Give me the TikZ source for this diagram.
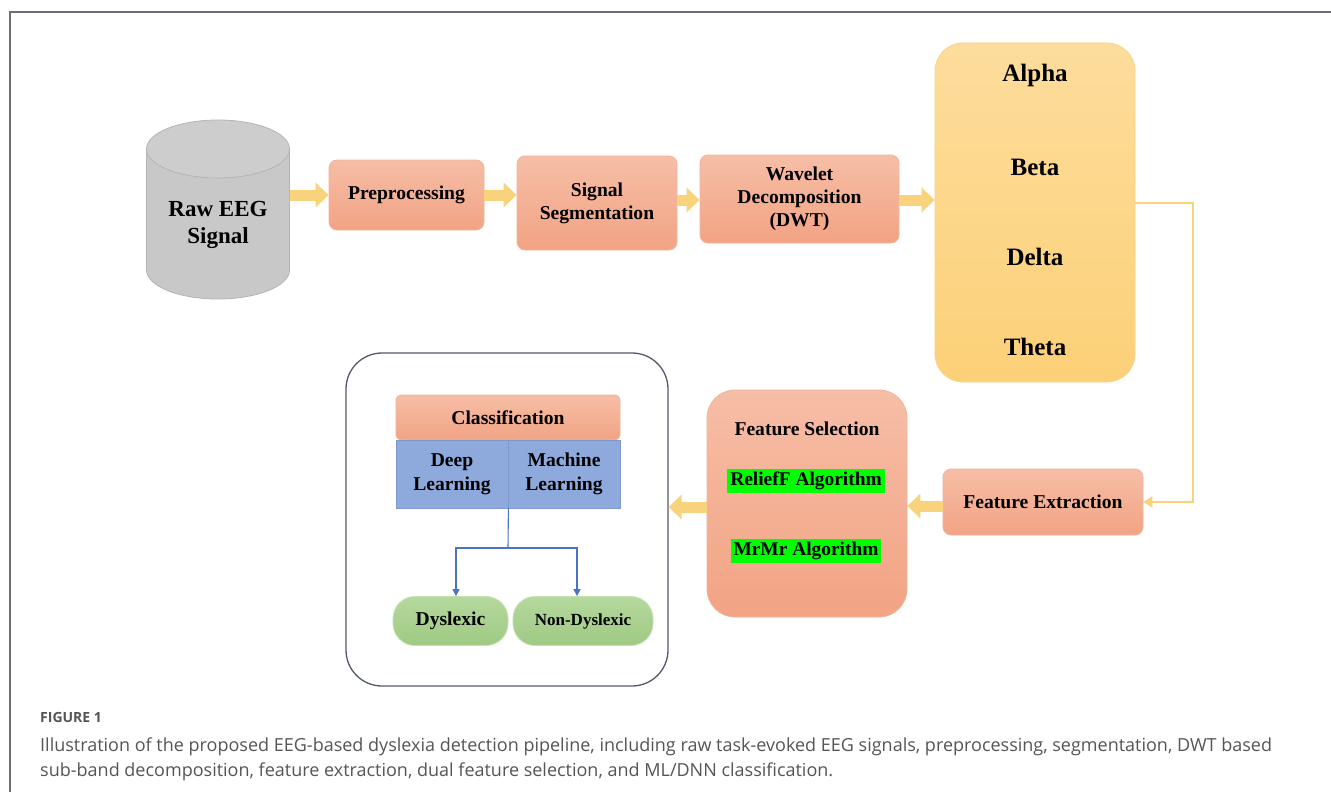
\documentclass[tikz,border=0pt]{standalone}
\usepackage{fontspec}
\setmainfont{Liberation Serif}
\newfontfamily\capfont{Open Sans}
\usetikzlibrary{arrows.meta,calc}
\definecolor{framegray}{HTML}{6E6E78}
\definecolor{otop}{HTML}{F6BEA6}
\definecolor{obot}{HTML}{F2A384}
\definecolor{oedge}{HTML}{F0B49A}
\definecolor{ytop}{HTML}{FDDD9C}
\definecolor{ybot}{HTML}{FCD077}
\definecolor{yedge}{HTML}{FAD486}
\definecolor{arrowy}{HTML}{F9D27C}
\definecolor{cylbody}{HTML}{C8C8C8}
\definecolor{cyltop}{HTML}{CDCDCD}
\definecolor{cyledge}{HTML}{B4B4B4}
\definecolor{bluefill}{HTML}{8EAADC}
\definecolor{blueedge}{HTML}{7D99CF}
\definecolor{blueline}{HTML}{4A74C0}
\definecolor{gtop}{HTML}{B5D99D}
\definecolor{gbot}{HTML}{9FC983}
\definecolor{gedge}{HTML}{C6E1B5}
\definecolor{panel}{HTML}{525A6A}
\definecolor{capgray}{HTML}{555555}
\definecolor{hlgreen}{HTML}{00FF00}
\tikzset{
  obox/.style={draw=oedge, line width=0.8pt, top color=otop, bottom color=obot, rounded corners=8pt, align=center, font=\fontsize{19.6}{23}\selectfont\bfseries, inner sep=2pt},
  ybox/.style={draw=yedge, line width=0.8pt, top color=ytop, bottom color=ybot, rounded corners=28pt},
  bbox/.style={draw=blueedge, line width=0.8pt, fill=bluefill, align=center, font=\fontsize{19.6}{24}\selectfont\bfseries, inner sep=1pt},
  gbox/.style={draw=gedge, line width=0.8pt, top color=gtop, bottom color=gbot, rounded corners=22pt, font=\fontsize{19.6}{22}\selectfont\bfseries, inner sep=1pt},
  fat/.style={draw=arrowy, line width=11pt, -{Triangle[length=13pt,width=24pt]}, shorten >=0pt},
  thinconn/.style={draw=arrowy, line width=2pt, -{Triangle[length=9pt,width=11pt]}},
  blueconn/.style={draw=blueline, line width=1.1pt, -{Triangle[length=7pt,width=7pt]}},
  hl/.style={fill=hlgreen, inner sep=3pt, font=\fontsize{19.4}{22}\selectfont\bfseries},
  bandtxt/.style={font=\fontsize{25}{28}\selectfont\bfseries}
}
\begin{document}
\begin{tikzpicture}[x=1pt,y=-1pt]
\useasboundingbox (0,0) rectangle (1331,792);
\fill[white] (0,0) rectangle (1331,792);
\draw[framegray, line width=1.1pt] (10,792) -- (10,12) -- (1331,12);

% cylinder
\filldraw[fill=cylbody, draw=cyledge, line width=0.8pt] (218,270) ellipse [x radius=71.5, y radius=29];
\fill[cylbody] (146.5,149) rectangle (289.5,270);
\draw[cyledge, line width=0.8pt] (146.5,149) -- (146.5,270) (289.5,149) -- (289.5,270);
\filldraw[fill=cyltop, draw=cyledge, line width=0.8pt] (218,149) ellipse [x radius=71.5, y radius=29];
\node[minimum width=143pt, minimum height=180pt] (raw) at (218,209) {};
\node[align=center, font=\fontsize{23}{27}\selectfont\bfseries] (rawtxt) at (218,225) {Raw EEG\\Signal};

% top row
\node[obox, minimum width=155pt, minimum height=70pt] (pre) at (406.5,195) {Preprocessing};
\node[obox, minimum width=160pt, minimum height=94pt] (seg) at (597,203) {Signal\\Segmentation};
\node[obox, minimum width=199pt, minimum height=88pt] (wav) at (799.5,199) {Wavelet\\Decomposition\\(DWT)};
\node[ybox, minimum width=200pt, minimum height=339pt] (band) at (1035,212.5) {};
\node[bandtxt] (alpha) at (1035,75) {Alpha};
\node[bandtxt] (beta) at (1035,167) {Beta};
\node[bandtxt] (delta) at (1035,257) {Delta};
\node[bandtxt] (theta) at (1035,347) {Theta};

\draw[fat] (raw.east |- pre) -- (pre.west);
\draw[fat] (pre.east) -- (seg.west |- pre);
\draw[fat] (seg.east |- 0,200) -- (wav.west |- 0,200);
\draw[fat] (wav.east |- 0,200) -- (band.west |- 0,200);

% feature extraction / selection
\node[obox, minimum width=200pt, minimum height=66pt] (fe) at (1043,502) {Feature Extraction};
\node[obox, rounded corners=28pt, minimum width=200pt, minimum height=227pt] (fs) at (807,503.5) {};
\node[font=\fontsize{19.6}{22}\selectfont\bfseries] (fstitle) at (807,429) {Feature Selection};
\node[hl] (relief) at (806,481) {ReliefF Algorithm};
\node[hl] (mrmr) at (806,551) {MrMr Algorithm};

\coordinate (c1) at (1193,203);
\draw[thinconn] (band.east |- c1) -- (c1) |- (fe.east);
\draw[fat] (fe.west |- 0,506) -- (fs.east |- 0,506);

% classification panel
\node[draw=panel, line width=1.3pt, rounded corners=36pt, minimum width=322pt, minimum height=333pt] (panel) at (507,519.5) {};
\draw[fat] (fs.west |- 0,507) -- (panel.east |- 0,507);

\node[obox, rounded corners=5pt, minimum width=224pt, minimum height=45pt] (cls) at (508,417.5) {Classification};
\node[bbox, minimum width=112pt, minimum height=68pt] (dl) at (452,474) {Deep\\Learning};
\node[bbox, minimum width=112pt, minimum height=68pt] (ml) at (564,474) {Machine\\Learning};
\node[gbox, minimum width=115pt, minimum height=49pt] (dys) at (450.5,621) {Dyslexic};
\node[gbox, minimum width=140pt, minimum height=49pt, font=\fontsize{17}{20}\selectfont\bfseries] (ndys) at (583,621) {Non-Dyslexic};

\coordinate (split) at (508,548);
\draw[blueline, line width=1.1pt] (dl.south east) -- (split);
\draw[blueconn] (split) -| ([xshift=5.5pt]dys.north);
\draw[blueconn] (split) -| ([xshift=-6pt]ndys.north);

% caption
\node[anchor=base west, inner sep=0pt, text=capgray, font=\capfont\bfseries\fontsize{14}{16}\selectfont] (fig) at (40,722) {FIGURE 1};
\node[anchor=base west, inner sep=0pt, text=capgray, font=\capfont\fontsize{18}{22}\selectfont] (cap1) at (40,751) {Illustration of the proposed EEG-based dyslexia detection pipeline, including raw task-evoked EEG signals, preprocessing, segmentation, DWT based};
\node[anchor=base west, inner sep=0pt, text=capgray, font=\capfont\fontsize{18}{22}\selectfont] (cap2) at (40,776) {sub-band decomposition, feature extraction, dual feature selection, and ML/DNN classification.};
\end{tikzpicture}
\end{document}
